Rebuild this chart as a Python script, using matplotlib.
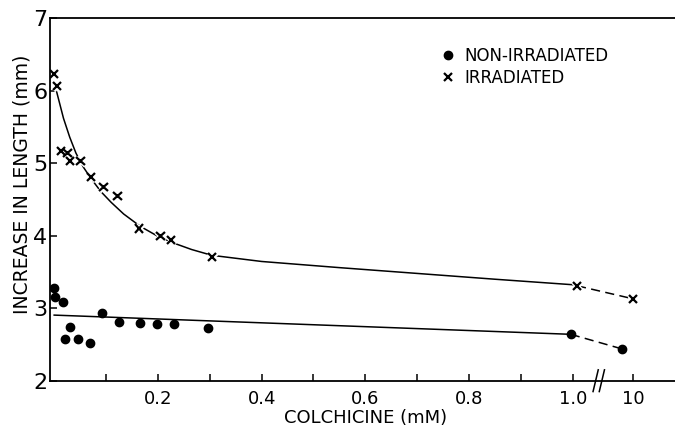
import matplotlib.pyplot as plt
from matplotlib.lines import Line2D
import matplotlib.patheffects as pe

# ---------------------------
# DATA (colchicine in mM, increase in length in mm)
# ---------------------------
irr_x = [0.0, 0.005, 0.013, 0.026, 0.030, 0.051, 0.071, 0.095, 0.122, 0.164, 0.205, 0.225, 0.304, 1.008]
irr_y = [6.23, 6.07, 5.17, 5.14, 5.03, 5.03, 4.81, 4.67, 4.55, 4.10, 4.00, 3.94, 3.71, 3.31]
irr_far_x = [10.0]
irr_far_y = [3.13]

non_x = [0.0, 0.002, 0.017, 0.030, 0.020, 0.045, 0.069, 0.093, 0.125, 0.166, 0.198, 0.231, 0.297, 0.996]
non_y = [3.28, 3.15, 3.09, 2.74, 2.58, 2.58, 2.52, 2.93, 2.81, 2.79, 2.78, 2.78, 2.73, 2.64]
non_far_x = [8.3]
non_far_y = [2.44]

# hand-drawn fit curves
irr_fit_x = [0.005, 0.018, 0.030, 0.042, 0.056, 0.071, 0.090, 0.110, 0.134, 0.166, 0.198,
             0.230, 0.265, 0.304, 0.40, 0.55, 0.70, 0.85, 1.008]
irr_fit_y = [5.98, 5.62, 5.36, 5.14, 4.95, 4.79, 4.61, 4.46, 4.30, 4.13, 4.00,
             3.90, 3.81, 3.73, 3.645, 3.56, 3.48, 3.40, 3.32]
non_fit_x = [0.0, 0.996]
non_fit_y = [2.905, 2.64]

xtick_vals = [0.1, 0.2, 0.3, 0.4, 0.5, 0.6, 0.7, 0.8, 0.9, 1.0]
xtick_labels = ["", "0.2", "", "0.4", "", "0.6", "", "0.8", "", "1.0"]
yticks = [2, 3, 4, 5, 6, 7]


# the 1.0 -> 10 mM stretch is squeezed into a short segment after the axis break
def brk(c):
    return 1.0 + (c - 1.0) * 0.116 / 9.0


plt.rcParams["font.family"] = "DejaVu Sans"
fig = plt.figure(figsize=(6.75, 4.29), dpi=100)
ax = fig.add_axes([0.0741, 0.1126, 0.9259, 0.8447])

lw = 1.1
ax.plot(irr_fit_x, irr_fit_y, color="black", lw=lw)
ax.plot(non_fit_x, non_fit_y, color="black", lw=lw)
ax.plot([irr_x[-1], brk(irr_far_x[0])], [irr_y[-1], irr_far_y[0]],
        color="black", lw=lw, dashes=(6, 3.5))
ax.plot([non_x[-1], brk(non_far_x[0])], [non_y[-1], non_far_y[0]],
        color="black", lw=lw, dashes=(6, 3.5))

halo = [pe.Stroke(linewidth=3.5, foreground="white"), pe.Normal()]
ax.plot(irr_x + [brk(v) for v in irr_far_x], irr_y + irr_far_y, ls="none",
        marker="x", ms=6, mew=1.6, color="black", path_effects=halo)
ax.plot(non_x + [brk(v) for v in non_far_x], non_y + non_far_y, ls="none",
        marker="o", ms=6, color="black")

ax.set_xlim(-0.008, 1.197)
ax.set_ylim(2, 7)

ax.set_xticks(xtick_vals + [brk(10)], xtick_labels + ["10"])
ax.set_yticks(yticks, [str(v) for v in yticks])
ax.tick_params(axis="x", direction="in", length=5, width=1.1, pad=7, labelsize=13)
ax.tick_params(axis="y", direction="in", length=5, width=1.1, pad=2, labelsize=16)

for s in ["left", "bottom", "top"]:
    ax.spines[s].set_linewidth(1.3)
ax.spines["right"].set_visible(False)

# axis break mark
xb = 1.05
for dx in (-0.006, 0.006):
    ax.plot([xb + dx - 0.005, xb + dx + 0.005], [-0.03, 0.03], color="black", lw=1.1,
            transform=ax.get_xaxis_transform(), clip_on=False)

fig.text(0.032, 0.57, "INCREASE IN LENGTH (mm)", rotation=90, ha="center", va="center", fontsize=13.5)
fig.text(0.542, 0.005, "COLCHICINE (mM)", ha="center", va="bottom", fontsize=13)

handles = [Line2D([], [], ls="none", marker="o", ms=6, color="black"),
           Line2D([], [], ls="none", marker="x", ms=6, mew=1.6, color="black")]
ax.legend(handles, ["NON-IRRADIATED", "IRRADIATED"], loc="upper left",
          bbox_to_anchor=(0.615, 0.94), frameon=False, fontsize=12,
          handlelength=0.8, handletextpad=0.6, labelspacing=0.25, borderaxespad=0)

fig.savefig("out.png", dpi=100)
